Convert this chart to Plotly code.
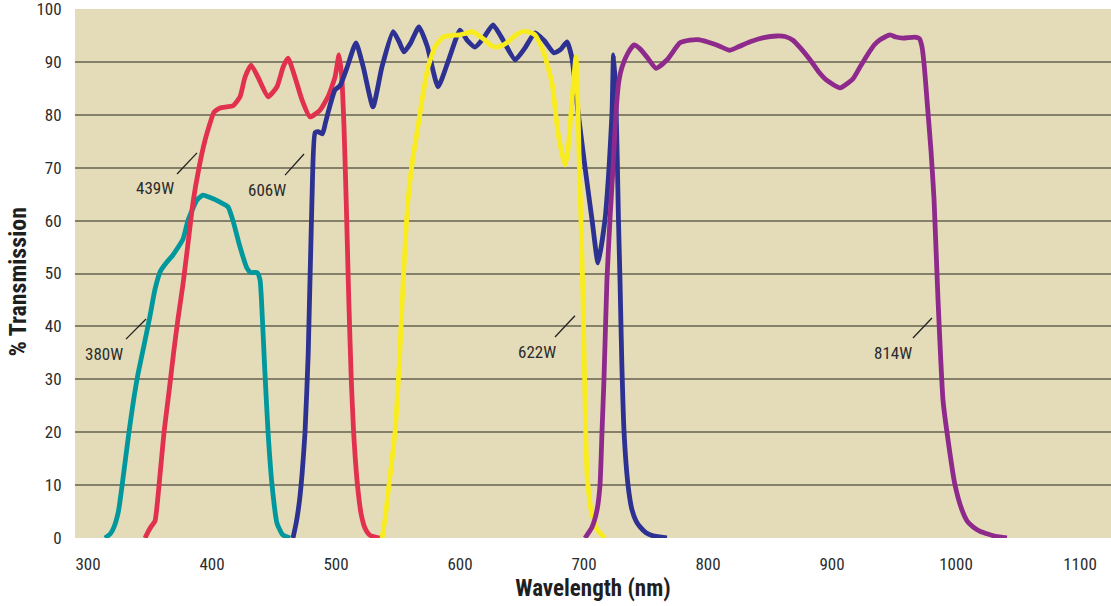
import plotly.graph_objects as go

# ---------------- data ----------------
wl_380 = [313.7, 318, 321, 324.5, 327.4, 333, 337, 340.3, 345.2, 350, 354, 358.5, 363, 368.5,
          376.6, 380.6, 387.9, 392.7, 398, 406.5, 412.9, 416.9, 422.6, 428.2, 431, 436.3,
          438.7, 440.5, 442.5, 445.2, 448.4, 452.4, 457, 462.9]
tr_380 = [0, 0.8, 2.1, 5, 9.8, 20.0, 26.5, 31, 36.5, 42, 47, 50.5, 52, 53.5,
          56.5, 60.0, 63.9, 64.8, 64.4, 63.5, 62.6, 60.0, 55.0, 51.0, 50.2, 50.2,
          48.8, 42, 32, 20.0, 10.0, 2.8, 0.6, 0]

wl_439 = [346, 348.5, 351, 354, 357.3, 361.3, 365.5, 369, 372.6, 376.6, 380.3, 384.7, 389.5,
          394.4, 398.4, 401.6, 406.5, 412, 416.9, 422.6, 426.6, 431.5, 437.1, 445.2, 452.4, 457.3,
          461.3, 466.9, 472.6, 479, 487.1, 493.5, 499.2, 502.4, 504.5, 506.4, 508.2, 510.3,
          512.3, 514.2, 517.3, 520.3, 523.5, 527.4, 535.5]
tr_439 = [0, 1.2, 2.2, 3.2, 10, 20, 28, 35, 41.5, 48, 55, 63.5, 70,
          75.2, 78.4, 80.5, 81.3, 81.5, 81.7, 83.4, 87.1, 89.4, 87.1, 83.4, 85.3, 89.0,
          90.7, 87.1, 82.8, 79.6, 80.9, 83.4, 87.1, 91.3, 87.5, 78, 63.9, 45.0,
          30, 20, 10, 4.5, 1.8, 0.5, 0]

wl_606 = [465.3, 468, 470.5, 472.6, 475, 477.6, 480.6, 483.1, 485.5, 489, 491.5, 494, 499.2,
          503.2, 509, 516.1, 522, 529.8, 537, 546, 550.5, 554.8, 560, 566.9, 573.5, 582.3, 591,
          600, 606, 612.1, 619, 626.6, 635, 644.4, 652, 660.5, 668, 675.8, 681, 686.3, 690.3,
          695.2, 700.8, 706.5, 711.3, 716.9, 720.2, 722.6, 723.8, 725.4, 726.8, 727.8, 729,
          730.5, 732.3, 735.5, 738.7, 742, 745.2, 750, 755.6, 766.9]
tr_606 = [0, 3, 7, 12, 20, 35, 63.9, 76.6, 76.8, 76.4, 78.5, 80.8, 84.7,
          85.5, 89, 93.6, 89, 81.5, 89, 95.7, 94, 91.9, 93.5, 96.6, 93, 85.3, 90.5,
          96.0, 94, 92.8, 94.5, 97.0, 94, 90.4, 92.5, 95.5, 94, 91.7, 92.3, 93.8, 90.7,
          80.5, 70.1, 60.1, 52.0, 60.1, 70.1, 80.5, 91.3, 85, 72, 60.1, 49.0,
          33, 20, 10, 5.3, 3.2, 2.1, 1.0, 0.4, 0]

wl_622 = [537.1, 539.5, 542.7, 547.6, 551, 554.5, 558.1, 561.5, 565.3, 569.4, 574.2, 579.8,
          586.3, 593, 600, 604.5, 609.7, 615, 620.2, 625, 629.8, 635, 640.3, 645, 650, 655,
          660.5, 666.9, 674.2, 679, 684.7, 687.1, 690.3, 693.5, 695.2, 696.3, 697.8, 699.2,
          700.5, 702.4, 705.6, 710.5, 716.9]
tr_622 = [0, 3.5, 10, 20, 33, 50, 63.9, 71, 76.6, 82.8, 89.0, 92.8,
          94.7, 95, 95.1, 95.4, 95.7, 95, 94.1, 93.1, 92.8, 93.2, 94.1, 95.1, 95.7, 95.7,
          95.1, 92.2, 86.0, 76.6, 70.5, 73.3, 82.8, 90.9, 80.5, 70.1, 58, 45,
          30, 12, 5.3, 1.6, 0]

wl_814 = [700.8, 706.5, 710.5, 712.9, 714.5, 716.1, 718.5, 721, 723.4, 725.8, 728.2, 730.6,
          735.5, 740.3, 745, 750.8, 758.1, 767, 777.4, 785.5, 792, 799.2, 808, 817.7, 825, 833.9,
          845, 855.6, 862, 868.5, 875, 882.3, 889, 895.9, 906.5, 916.9, 923, 929, 934,
          938.7, 946.8, 951.5, 957.3, 966.9, 970.5, 972.6, 974.5, 976.6, 979.8, 982.3, 985.5,
          989.5, 992.7, 999.2, 1004.8, 1009, 1013.7, 1019, 1025, 1032, 1041.1]
tr_814 = [0, 2.1, 5.3, 10, 20, 30, 48.8, 60.5, 70.1, 80.5, 86.5, 89.0,
          91.7, 93.2, 92.5, 90.9, 88.8, 90.4, 93.6, 94.1, 94.2, 93.8, 93.1, 92.2, 92.9, 93.8,
          94.6, 94.9, 94.8, 94.1, 92.5, 90.4, 88.2, 86.5, 85.1, 86.8, 89.2, 91.5, 93.2,
          94.2, 95.1, 94.7, 94.5, 94.7, 94.4, 92.8, 89, 82.8, 73.3, 63.9, 45.0,
          26.1, 20, 10, 5.3, 3.2, 2.1, 1.3, 0.8, 0.3, 0]

series_names = ["380W", "439W", "606W", "622W", "814W"]
series_colors = ["#00989C", "#E2314F", "#2D3192", "#F9EC1E", "#8E2A8C"]
series_x = [wl_380, wl_439, wl_606, wl_622, wl_814]
series_y = [tr_380, tr_439, tr_606, tr_622, tr_814]

# label text positions and leader lines (data coordinates)
label_x = [312.9, 354.0, 444.4, 662.1, 949.2]
label_y = [34.8, 66.2, 65.8, 35.2, 35.0]
leader_x0 = [330.6, 371.8, 458.9, 676.6, 965.3]
leader_y0 = [37.6, 68.8, 68.6, 38.0, 37.8]
leader_x1 = [346.8, 387.9, 474.2, 692.7, 980.6]
leader_y1 = [41.4, 72.8, 72.6, 42.0, 41.6]

x_ticks = [300, 400, 500, 600, 700, 800, 900, 1000, 1100]
y_ticks = [0, 10, 20, 30, 40, 50, 60, 70, 80, 90, 100]
grid_vals = [10, 20, 30, 40, 50, 60, 70, 80, 90]

FONT = "Liberation Sans Narrow, Roboto Condensed, Arial Narrow, Liberation Sans, sans-serif"
TXT = "#2b2b2b"

fig = go.Figure()
# grid carrier (secondary y axis, drawn below)
fig.add_trace(go.Scatter(x=[None], y=[None], yaxis="y2", showlegend=False, hoverinfo="skip"))
for name, col, xs, ys in zip(series_names, series_colors, series_x, series_y):
    fig.add_trace(go.Scatter(x=xs, y=ys, mode="lines", name=name,
                             line=dict(color=col, width=4.8, shape="spline", smoothing=0.5),
                             showlegend=False, hoverinfo="skip"))

for name, tx, ty, x0, y0, x1, y1 in zip(series_names, label_x, label_y,
                                         leader_x0, leader_y0, leader_x1, leader_y1):
    fig.add_annotation(x=tx, y=ty, text=name, showarrow=False,
                       font=dict(family=FONT, size=17, color=TXT))
    fig.add_shape(type="line", x0=x0, y0=y0, x1=x1, y1=y1,
                  line=dict(color="#222222", width=1.3))

# y-axis title placed as a rotated annotation
fig.add_annotation(xref="paper", yref="paper", x=-0.055, y=0.483, xanchor="center",
                   yanchor="middle", textangle=-90, showarrow=False,
                   text="<b>% Transmission</b>",
                   font=dict(family=FONT, size=24, color="#1f1f1f"))

fig.update_layout(
    width=1111, height=606,
    margin=dict(l=75, r=0, t=9, b=68, autoexpand=False),
    paper_bgcolor="white",
    plot_bgcolor="#E4DCB9",
    font=dict(family=FONT, color=TXT, size=17),
    xaxis=dict(range=[289.5, 1125], tickvals=x_ticks, showgrid=False, zeroline=False,
               ticks="outside", ticklen=11, tickcolor="rgba(0,0,0,0)",
               ticklabeloverflow="allow",
               tickfont=dict(family=FONT, size=17, color=TXT),
               title=dict(text="<b>Wavelength (nm)</b>", standoff=6,
                          font=dict(family=FONT, size=23, color="#1f1f1f"))),
    yaxis=dict(range=[0, 100], tickvals=y_ticks, showgrid=False, zeroline=False,
               ticks="outside", ticklen=9, tickcolor="rgba(0,0,0,0)",
               ticklabeloverflow="allow",
               tickfont=dict(family=FONT, size=17, color=TXT)),
    yaxis2=dict(range=[0, 100], overlaying="y", tickvals=grid_vals, showgrid=True,
                gridcolor="#85806A", gridwidth=1.6, showticklabels=False, zeroline=False,
                layer="below traces"),
)

fig.write_html("out.html", config={"displayModeBar": False},
               post_script="document.body.style.margin='0';document.body.style.overflow='hidden';")
